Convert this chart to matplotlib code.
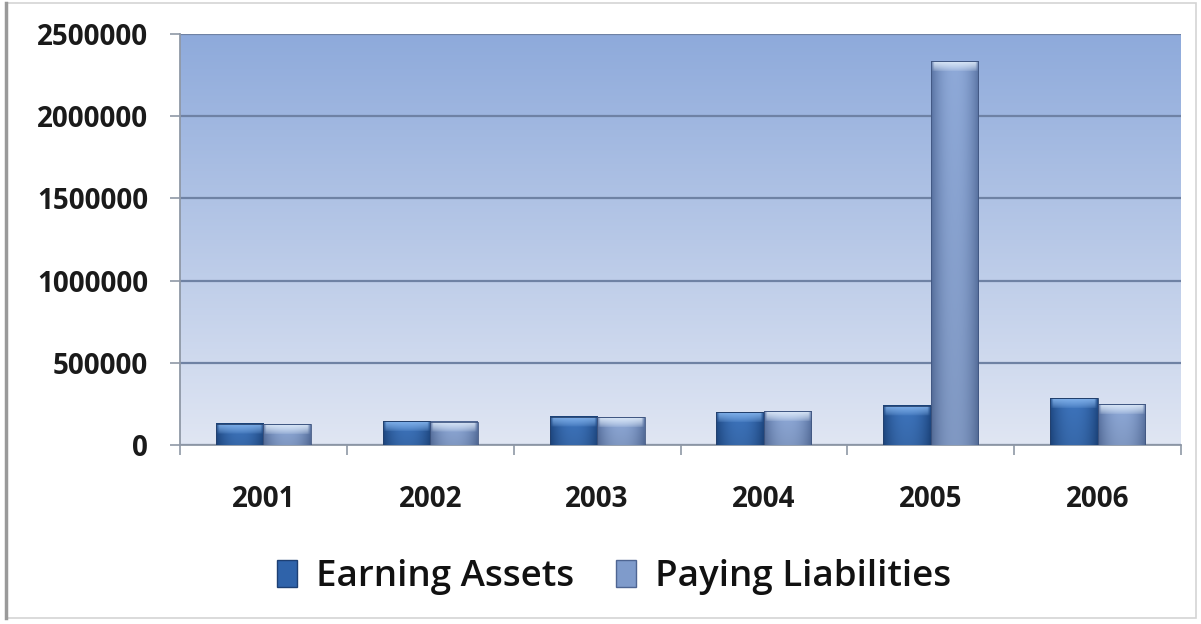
import matplotlib
matplotlib.use("Agg")
import matplotlib.pyplot as plt
import matplotlib.colors as mcolors
from matplotlib.patches import Rectangle, Patch
from matplotlib.ticker import MultipleLocator, FixedLocator
import numpy as np

plt.rcParams["font.family"] = ["Open Sans", "DejaVu Sans"]

years = ["2001", "2002", "2003", "2004", "2005", "2006"]
earning_assets = [130000, 143000, 172000, 200000, 240000, 285000]
paying_liabilities = [127000, 140000, 168000, 205000, 2335000, 249000]
series_names = ["Earning Assets", "Paying Liabilities"]

W, H, DPI = 1201, 624, 100

# bar shading: (edge, centre, top cap)
SHADES = {
    "ea": ("#1f4a86", "#3d74bd", "#86b6ee"),
    "pl": ("#5a74a4", "#8ea9d8", "#e2eefb"),
}


def _rgb(c):
    return np.array(mcolors.to_rgb(c))


def shade_bar(ax, patch, shade, px_per_unit):
    x0, y0 = patch.get_x(), patch.get_y()
    w, h = patch.get_width(), patch.get_height()
    edge, centre, cap = (_rgb(c) for c in shade)
    h_px = max(int(round(h * px_per_unit)), 2)
    nx = 60
    t = np.linspace(0, 1, nx)
    # light in the middle, falling off towards both sides
    prof = 1 - np.abs(2 * t - 1) ** 2.2
    prof[:2] *= 0.4
    prof[-2:] *= 0.5
    row = edge + (centre - edge) * prof[:, None]
    img = np.repeat(row[None, :, :], h_px, axis=0)
    # slightly darker towards the base
    v = np.linspace(0.9, 1.0, h_px)[:, None, None]
    img = img * v
    # bevelled highlight cap on top
    cap_px = 10
    d = np.arange(h_px)[::-1]
    fall = np.clip(1 - d / cap_px, 0, 1) ** 0.7
    inset = np.clip(np.minimum(t, 1 - t) * nx / 4.0, 0, 1)
    k = fall[:, None] * inset[None, :] * 0.9
    img = img * (1 - k[:, :, None]) + cap * k[:, :, None]
    img[-1, :, :] = edge * 0.9
    ax.imshow(np.clip(img, 0, 1), extent=[x0, x0 + w, y0, y0 + h],
              origin="lower", aspect="auto", interpolation="bilinear", zorder=3)


fig = plt.figure(figsize=(W / DPI, H / DPI), dpi=DPI)
fig.patch.set_facecolor("white")

left, right, top, bottom = 180, 1181, 34, 445
ax = fig.add_axes([left / W, 1 - bottom / H, (right - left) / W, (bottom - top) / H])

ymax = 2500000
ax.set_xlim(-0.5, len(years) - 0.5)
ax.set_ylim(0, ymax)

# plot-area background gradient
bg_top, bg_bot = _rgb("#8eaadb"), _rgb("#e0e6f3")
g = np.linspace(0, 1, 256)[:, None]
bg = bg_bot + (bg_top - bg_bot) * g
ax.imshow(np.repeat(bg[:, None, :], 2, axis=1), extent=[-0.5, len(years) - 0.5, 0, ymax],
          origin="lower", aspect="auto", zorder=0)

ax.yaxis.set_major_locator(MultipleLocator(500000))
ax.grid(axis="y", color="#6f82a4", lw=1.6, zorder=1)
ax.set_axisbelow(True)

x = np.arange(len(years))
bw = 0.285
px_per_unit = (bottom - top) / ymax
ea_bars = ax.bar(x - bw / 2, earning_assets, bw, color="none", edgecolor="#24406c",
                 lw=0.6, zorder=4)
pl_bars = ax.bar(x + bw / 2, paying_liabilities, bw, color="none", edgecolor="#3f5580",
                 lw=0.6, zorder=4)
for p in ea_bars.patches:
    shade_bar(ax, p, SHADES["ea"], px_per_unit)
for p in pl_bars.patches:
    shade_bar(ax, p, SHADES["pl"], px_per_unit)
ax.set_xlim(-0.5, len(years) - 0.5)
ax.set_ylim(0, ymax)

# axes, ticks, labels
for side in ("top", "right"):
    ax.spines[side].set_visible(False)
for side in ("left", "bottom"):
    ax.spines[side].set_color("#8f98a6")
    ax.spines[side].set_linewidth(1.3)

ax.ticklabel_format(style="plain", axis="y")
ax.tick_params(axis="y", length=7, width=1.2, color="#8f98a6", pad=16,
               labelsize=20)
ax.set_xticks(x, years)
ax.tick_params(axis="x", which="major", length=0, pad=29, labelsize=20)
ax.xaxis.set_minor_locator(FixedLocator(np.arange(-0.5, len(years), 1.0)))
ax.tick_params(axis="x", which="minor", length=7, width=1.2, color="#8f98a6")
for lbl in ax.get_xticklabels() + ax.get_yticklabels():
    lbl.set_fontweight("bold")
    lbl.set_color("#1a1a1a")

# legend
handles = [
    Patch(facecolor="#2f63aa", edgecolor="#1d3f73", lw=1.0),
    Patch(facecolor="#7f9bcb", edgecolor="#4e6592", lw=1.0),
]
fig.legend(handles, series_names, loc="center", bbox_to_anchor=(614 / W, 1 - 577 / H),
           ncol=2, frameon=False, handlelength=0.55, handleheight=0.75,
           handletextpad=0.5, columnspacing=1.15, labelcolor="#111111",
           prop={"size": 26.5, "weight": "semibold"})

# outer chart frame
fig.add_artist(Rectangle((6 / W, 6 / H), 1190 / W, 615 / H, transform=fig.transFigure,
                         facecolor="none", edgecolor="#d4d4d4", lw=1.2))
fig.add_artist(plt.Line2D([6 / W, 6 / W], [6 / H, 621 / H], transform=fig.transFigure,
                          color="#9a9a9a", lw=2.5))

fig.savefig("out.png", dpi=DPI, facecolor="white")
